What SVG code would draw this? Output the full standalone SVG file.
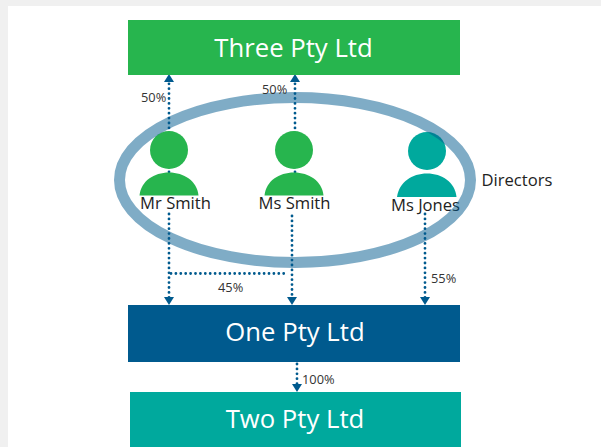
<svg xmlns="http://www.w3.org/2000/svg" width="601" height="447" viewBox="0 0 601 447">
<style>
text{font-family:"Open Sans","Liberation Sans",sans-serif}
.box{font-size:25.700px;fill:#fff;text-anchor:middle}
.name{font-size:16.600px;fill:#222;text-anchor:middle}
.pct{font-size:12.800px;fill:#333}
.link{fill:none;stroke:#005a8e;stroke-width:2.800;stroke-dasharray:0 4.900;stroke-linecap:round}
.green{fill:#27b54e}
.teal{fill:#00a99d}
.tip{fill:#005a8e}
</style>
<rect width="601" height="447" fill="#f0f0f0"/>
<rect x="8" y="6" width="593" height="441" fill="#fff"/>
<g id="connectors">
<path class="link" d="M169 172V82"/><path class="tip" d="M169 74l-5 8h10z"/>
<path class="link" d="M295 172V82"/><path class="tip" d="M295 74l-5 8h10z"/>
<path class="link" d="M169 214V298"/><path class="tip" d="M169 305l-5-8h10z"/>
<path class="link" d="M292 216V298"/><path class="tip" d="M292 305l-5-8h10z"/>
<path class="link" d="M425 214V298"/><path class="tip" d="M425 305l-5-8h10z"/>
<path class="link" d="M171 273.500H288"/>
<path class="link" d="M297 364V385"/><path class="tip" d="M297 392l-5-8h10z"/>
</g>
<g id="three"><rect x="128" y="20" width="332" height="55" fill="#27b54e"/><text class="box" x="293.500" y="57">Three Pty Ltd</text></g>
<g id="one"><rect x="128" y="305" width="332" height="57" fill="#005a8e"/><text class="box" x="295" y="341">One Pty Ltd</text></g>
<g id="two"><rect x="130" y="392" width="331" height="55" fill="#00a99d"/><text class="box" x="295" y="428">Two Pty Ltd</text></g>
<g id="mr-smith"><circle class="green" cx="169" cy="150" r="19"/><path class="green" d="M139.500 195.500C141 181 154 172.500 169 172.500S197 181 198.500 195.500Z"/><text class="name" x="175.500" y="208.500">Mr Smith</text></g>
<g id="ms-smith"><circle class="green" cx="294" cy="150" r="19"/><path class="green" d="M264.500 195.500C266 181 279 172.500 294 172.500S322 181 323.500 195.500Z"/><text class="name" x="294.500" y="209">Ms Smith</text></g>
<g id="ms-jones"><circle class="teal" cx="427" cy="151" r="19"/><path class="teal" d="M397 197C399 182 412 173.500 427 173.500S455 182 456.500 197Z"/><text class="name" x="425.500" y="211">Ms Jones</text></g>
<g id="directors"><ellipse cx="295" cy="180" rx="175.500" ry="82.500" fill="none" stroke="#005a8e" stroke-opacity=".5" stroke-width="11"/><text x="481.500" y="186" font-size="16.600" fill="#222">Directors</text></g>
<g id="labels">
<text class="pct" x="141" y="102">50%</text>
<text class="pct" x="262" y="94">50%</text>
<text class="pct" x="218" y="292">45%</text>
<text class="pct" x="431" y="283">55%</text>
<text class="pct" x="302" y="384">100%</text>
</g>
</svg>
